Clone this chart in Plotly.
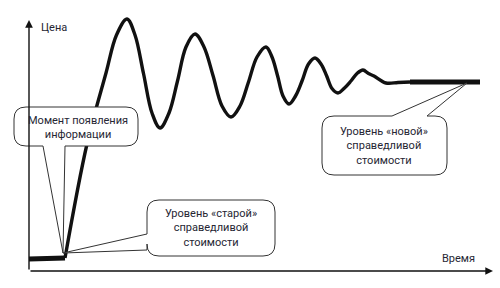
import plotly.graph_objects as go

H = 288  # page height used to turn picture rows into price levels

# ---- data ----
curve_time = [65, 87, 106, 116.5, 127, 135, 143.5, 152, 160, 169, 177.5, 186, 195, 204, 213,
              222, 231, 240, 248.5, 257, 266, 272, 277.5, 283, 289, 295.5, 302, 308.5, 315, 321,
              326.5, 332, 338, 344, 350.5, 357, 363, 368.5, 374, 386, 398, 410]
curve_price = [30, 144, 215, 253, 269, 253, 214.5, 175, 160, 175, 207, 241, 254, 241, 212.5,
               182, 171, 182, 206, 231, 241, 231, 212.5, 192, 184, 192, 207, 224, 230, 224,
               212.5, 199.5, 195, 199.5, 206.5, 214.5, 218, 214.5, 212, 205, 205.5, 206]
old_level_time = [29, 65]
old_level_price = [29, 30]
new_level_time = [410, 480]
new_level_price = [206, 206]

axis_label_y = "Цена"
axis_label_x = "Время"
callout_texts = [
    "Момент появления<br>информации",
    "Уровень «старой»<br>справедливой<br>стоимости",
    "Уровень «новой»<br>справедливой<br>стоимости",
]

TEXT_COLOR = "#262633"
LINE_COLOR = "#111111"

fig = go.Figure()
fig.add_trace(go.Scatter(x=curve_time, y=curve_price, mode="lines",
                         line=dict(color=LINE_COLOR, width=3.4, shape="spline", smoothing=1.0),
                         hoverinfo="skip"))
fig.add_trace(go.Scatter(x=old_level_time, y=old_level_price, mode="lines",
                         line=dict(color=LINE_COLOR, width=5), hoverinfo="skip"))
fig.add_trace(go.Scatter(x=new_level_time, y=new_level_price, mode="lines",
                         line=dict(color=LINE_COLOR, width=5), hoverinfo="skip"))


def P(py):
    return H - py


def callout(L, T, R, B, r, side, bases, tip):
    """Rounded-rectangle callout path (picture coords, converted to price)."""
    pts = []
    def M(x, y): pts.append(f"M{x},{P(y)}")
    def Ln(x, y): pts.append(f"L{x},{P(y)}")
    def Q(cx, cy, x, y): pts.append(f"Q{cx},{P(cy)} {x},{P(y)}")
    M(L + r, T)
    if side == "top":
        b1, b2 = sorted(bases)
        Ln(b1, T); Ln(*tip); Ln(b2, T)
    Ln(R - r, T); Q(R, T, R, T + r)
    Ln(R, B - r); Q(R, B, R - r, B)
    if side == "bottom":
        b1, b2 = sorted(bases, reverse=True)
        Ln(b1, B); Ln(*tip); Ln(b2, B)
    Ln(L + r, B); Q(L, B, L, B - r)
    if side == "left":
        b1, b2 = sorted(bases, reverse=True)
        Ln(L, b1); Ln(*tip); Ln(L, b2)
    Ln(L, T + r); Q(L, T, L + r, T)
    pts.append("Z")
    return " ".join(pts)


boxes = [
    dict(L=14, T=107, R=138, B=146, side="bottom", bases=(43, 65), tip=(63, 253)),
    dict(L=147, T=200, R=275, B=256, side="left", bases=(234, 250), tip=(63, 253)),
    dict(L=322, T=116, R=447, B=175, side="top", bases=(392, 427), tip=(467, 83)),
]
text_pos = [(78, 127.5), (211, 228), (384, 145.5)]

shapes = []
for b in boxes:
    shapes.append(dict(type="path", xref="x", yref="y", layer="above",
                       path=callout(b["L"], b["T"], b["R"], b["B"], 12, b["side"], b["bases"], b["tip"]),
                       line=dict(color="#333333", width=1), fillcolor="white"))

annotations = []
# axes with arrows
annotations.append(dict(x=29, y=P(20), ax=29, ay=P(271), xref="x", yref="y", axref="x", ayref="y",
                        text="", showarrow=True, arrowhead=2, arrowsize=1.1, arrowwidth=1.4,
                        arrowcolor=LINE_COLOR, standoff=0, startstandoff=0))
annotations.append(dict(x=493, y=P(271), ax=29, ay=P(271), xref="x", yref="y", axref="x", ayref="y",
                        text="", showarrow=True, arrowhead=2, arrowsize=1.1, arrowwidth=1.4,
                        arrowcolor=LINE_COLOR, standoff=0, startstandoff=0))
annotations.append(dict(x=39, y=P(27), xref="x", yref="y", text=axis_label_y, showarrow=False,
                        xanchor="left", yanchor="middle", font=dict(family="Roboto", size=11, color=TEXT_COLOR)))
annotations.append(dict(x=458.5, y=P(258), xref="x", yref="y", text=axis_label_x, showarrow=False,
                        xanchor="center", yanchor="middle", font=dict(family="Roboto", size=11, color=TEXT_COLOR)))
for (tx, ty), t in zip(text_pos, callout_texts):
    annotations.append(dict(x=tx, y=P(ty), xref="x", yref="y", text=t, showarrow=False,
                            xanchor="center", yanchor="middle", align="center",
                            font=dict(family="Roboto", size=11, color=TEXT_COLOR)))

fig.update_layout(
    width=500, height=288, margin=dict(l=0, r=0, t=0, b=0),
    paper_bgcolor="white", plot_bgcolor="white", showlegend=False,
    xaxis=dict(range=[0, 500], visible=False, fixedrange=True),
    yaxis=dict(range=[0, 288], visible=False, fixedrange=True),
    shapes=shapes, annotations=annotations,
)
fig.write_html("out.html", config={"displayModeBar": False})
